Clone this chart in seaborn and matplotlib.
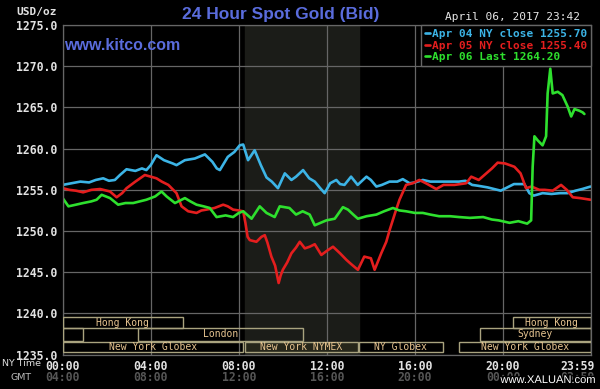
import numpy as np
import pandas as pd
import matplotlib
matplotlib.use("Agg")
import matplotlib.pyplot as plt
import matplotlib.patheffects as pe
import matplotlib.transforms as mtransforms
from matplotlib.patches import Rectangle
import seaborn as sns

# hours since NY midnight, prices
apr04_hours = [0.0, 0.4, 0.8, 1.2, 1.5, 1.84, 2.1, 2.37, 2.6, 2.9, 3.3, 3.6, 3.8, 4.0, 4.26,
               4.6, 5.0, 5.17, 5.55, 6.0, 6.46, 6.8, 7.0, 7.14, 7.5, 7.8, 8.04, 8.2, 8.42,
               8.72, 9.0, 9.26, 9.5, 9.78, 10.09, 10.39, 10.6, 10.92, 11.2, 11.45, 11.7,
               11.9, 12.15, 12.43, 12.6, 12.8, 13.1, 13.4, 13.8, 14.0, 14.25, 14.5, 14.85,
               15.2, 15.45, 15.76, 16.0, 16.36, 16.7, 17.1, 17.6, 18.0, 18.3, 18.6, 18.86,
               19.3, 19.9, 20.2, 20.5, 20.97, 21.2, 21.4, 21.8, 22.2, 22.6, 22.94, 23.3,
               23.6, 23.98]
apr04_price = [1255.6, 1255.8, 1256.0, 1255.9, 1256.2, 1256.4, 1256.1, 1256.2, 1256.8, 1257.5,
               1257.3, 1257.6, 1257.4, 1258.0, 1259.2, 1258.6, 1258.2, 1258.0, 1258.6, 1258.8,
               1259.3, 1258.4, 1257.6, 1257.4, 1259.0, 1259.6, 1260.4, 1260.5, 1258.6, 1259.8,
               1258.0, 1256.5, 1256.0, 1255.2, 1257.0, 1256.2, 1256.6, 1257.4, 1256.4, 1256.0,
               1255.2, 1254.6, 1255.8, 1256.2, 1255.7, 1255.6, 1256.6, 1255.6, 1256.6, 1256.2,
               1255.4, 1255.6, 1256.0, 1256.0, 1256.3, 1255.8, 1255.9, 1256.2, 1256.0, 1256.0,
               1256.0, 1256.0, 1256.1, 1255.6, 1255.5, 1255.3, 1254.9, 1255.3, 1255.7, 1255.7,
               1254.6, 1254.3, 1254.6, 1254.5, 1254.6, 1254.6, 1254.9, 1255.1, 1255.4]

apr05_hours = [0.0, 0.3, 0.6, 0.93, 1.3, 1.7, 2.15, 2.45, 2.7, 2.9, 3.3, 3.73, 4.0, 4.26, 4.5,
               4.8, 5.17, 5.4, 5.7, 6.08, 6.3, 6.53, 6.9, 7.29, 7.5, 7.74, 8.0, 8.2, 8.3, 8.4,
               8.5, 8.8, 9.03, 9.18, 9.3, 9.48, 9.65, 9.81, 9.9, 10.0, 10.2, 10.39, 10.6,
               10.77, 11.0, 11.22, 11.45, 11.75, 12.0, 12.28, 12.6, 12.89, 13.1, 13.41, 13.7,
               14.0, 14.17, 14.47, 14.7, 14.85, 15.1, 15.3, 15.6, 15.9, 16.2, 16.5, 16.97,
               17.3, 17.8, 18.33, 18.56, 18.9, 19.2, 19.5, 19.76, 20.1, 20.52, 20.8, 21.05,
               21.3, 21.65, 21.9, 22.26, 22.64, 22.9, 23.17, 23.5, 23.98]
apr05_price = [1255.2, 1255.0, 1254.9, 1254.7, 1255.0, 1255.1, 1254.8, 1254.1, 1254.6, 1255.2,
               1256.0, 1256.8, 1256.6, 1256.4, 1256.0, 1255.6, 1254.6, 1253.0, 1252.4, 1252.2,
               1252.5, 1252.6, 1252.8, 1253.2, 1253.0, 1252.6, 1252.5, 1252.4, 1251.0, 1249.3,
               1248.9, 1248.7, 1249.3, 1249.5, 1248.6, 1246.9, 1245.8, 1243.7, 1244.6, 1245.3,
               1246.2, 1247.3, 1248.0, 1248.7, 1247.9, 1248.1, 1248.4, 1247.1, 1247.6, 1248.1,
               1247.3, 1246.5, 1246.0, 1245.3, 1246.9, 1246.7, 1245.3, 1247.3, 1248.7, 1250.1,
               1252.2, 1253.8, 1255.6, 1255.8, 1256.2, 1255.8, 1255.1, 1255.6, 1255.6, 1255.8,
               1256.6, 1256.2, 1256.9, 1257.6, 1258.3, 1258.2, 1257.8, 1257.0, 1255.2, 1255.4,
               1255.0, 1255.0, 1254.9, 1255.6, 1255.0, 1254.1, 1254.0, 1253.8]

apr06_hours = [0.0, 0.26, 0.6, 0.93, 1.3, 1.54, 1.77, 2.15, 2.52, 2.85, 3.2, 3.5, 3.8, 4.2,
               4.49, 4.72, 5.1, 5.55, 5.8, 6.08, 6.4, 6.68, 6.99, 7.4, 7.74, 8.0, 8.2, 8.58,
               8.95, 9.26, 9.63, 9.86, 10.3, 10.6, 10.9, 11.22, 11.45, 11.98, 12.36, 12.73,
               12.96, 13.2, 13.41, 13.8, 14.25, 14.6, 15.0, 15.3, 15.6, 16.0, 16.36, 16.7,
               17.1, 17.6, 18.0, 18.5, 19.1, 19.5, 19.8, 20.3, 20.7, 21.1, 21.28, 21.35,
               21.43, 21.58, 21.8, 21.96, 22.03, 22.15, 22.26, 22.49, 22.7, 22.94, 23.1,
               23.25, 23.47, 23.62, 23.7]
apr06_price = [1254.0, 1253.0, 1253.2, 1253.4, 1253.6, 1253.8, 1254.4, 1254.0, 1253.2, 1253.4,
               1253.4, 1253.6, 1253.8, 1254.2, 1254.8, 1254.2, 1253.4, 1254.0, 1253.6, 1253.2,
               1253.0, 1252.8, 1251.7, 1251.9, 1251.7, 1252.2, 1252.4, 1251.5, 1253.0, 1252.2,
               1251.7, 1253.0, 1252.8, 1252.0, 1252.4, 1252.0, 1250.7, 1251.3, 1251.5, 1252.9,
               1252.6, 1252.0, 1251.5, 1251.8, 1252.0, 1252.4, 1252.8, 1252.5, 1252.4, 1252.2,
               1252.2, 1252.0, 1251.8, 1251.8, 1251.7, 1251.6, 1251.7, 1251.4, 1251.3, 1251.0,
               1251.2, 1250.9, 1251.3, 1257.8, 1261.5, 1261.0, 1260.4, 1261.5, 1266.7, 1269.7,
               1266.7, 1266.9, 1266.5, 1265.1, 1263.9, 1264.8, 1264.6, 1264.4, 1264.2]

series_labels = ["Apr 04 NY close 1255.70", "Apr 05 NY close 1255.40", "Apr 06 Last 1264.20"]

# trading sessions: name, start hour, end hour, row (0 = top)
sessions = [("Hong Kong", 0.0, 5.47, 0), ("Hong Kong", 20.45, 24.0, 0),
            ("", 0.0, 0.93, 1), ("London", 3.43, 10.92, 1), ("Sydney", 18.94, 24.0, 1),
            ("New York Globex", 0.0, 8.2, 2), ("New York NYMEX", 8.27, 13.41, 2),
            ("NY Globex", 13.46, 17.27, 2), ("New York Globex", 18.0, 24.0, 2)]
nymex_open, nymex_close = 8.27, 13.45

x_ticks = [0, 4, 8, 12, 16, 20, 24]
ny_labels = ["00:00", "04:00", "08:00", "12:00", "16:00", "20:00", "23:59"]
gmt_labels = ["04:00", "08:00", "12:00", "16:00", "20:00", "00:00", "03:59"]
y_ticks = [1235, 1240, 1245, 1250, 1255, 1260, 1265, 1270, 1275]

df = pd.concat([
    pd.DataFrame({"hour": apr04_hours, "price": apr04_price, "series": series_labels[0]}),
    pd.DataFrame({"hour": apr05_hours, "price": apr05_price, "series": series_labels[1]}),
    pd.DataFrame({"hour": apr06_hours, "price": apr06_price, "series": series_labels[2]}),
])

grid_c = "#666666"
sns.set_theme(style="dark", rc={"axes.facecolor": "black", "figure.facecolor": "black",
                                "axes.edgecolor": grid_c, "grid.color": grid_c})
plt.rcParams["font.family"] = ["DejaVu Sans Mono"]

fig = plt.figure(figsize=(6, 3.89), dpi=100)
ax = fig.add_axes([0.1045, 0.0882, 0.8805, 0.8475])

ax.axvspan(nymex_open, nymex_close, color="#1b1c18", zorder=0)

palette = {series_labels[0]: "#3cb4e6", series_labels[1]: "#e41e1e", series_labels[2]: "#2ee02e"}
sns.lineplot(data=df, x="hour", y="price", hue="series", palette=palette,
             estimator=None, linewidth=1.9, ax=ax)

ax.set_xlim(0, 24)
ax.set_ylim(1235, 1275)
ax.set_xticks(x_ticks)
ax.set_xticklabels(ny_labels)
ax.set_yticks(y_ticks)
ax.set_yticklabels([f"{v:.1f}" for v in y_ticks])
ax.set_xlabel("")
ax.set_ylabel("")
ax.grid(True, color=grid_c, linewidth=0.9)
ax.set_axisbelow(True)
ax.tick_params(length=0, colors="#e2e2e2", labelsize=8.3, pad=4)
for lab in ax.get_xticklabels() + ax.get_yticklabels():
    lab.set_fontweight("bold")

# last time label sits inside the figure edge
shift = mtransforms.ScaledTranslation(4 / 100, 0, fig.dpi_scale_trans)
last = ax.get_xticklabels()[-1]
last.set_ha("right")
last.set_transform(last.get_transform() + shift)

for sp in ax.spines.values():
    sp.set_color(grid_c)
    sp.set_linewidth(0.9)

for i, g in enumerate(gmt_labels):
    tr = ax.get_xaxis_transform()
    ha = "center"
    if i == len(gmt_labels) - 1:
        tr = tr + shift
        ha = "right"
    ax.text(x_ticks[i], -0.07, g, transform=tr, ha=ha, va="center",
            fontsize=8.3, fontweight="bold", color="#565656")

rows = [(1238.2, 1239.6), (1236.7, 1238.2), (1235.3, 1236.6)]
for name, start, end, row in sessions:
    lo, hi = rows[row]
    fill = "#26261a" if "NYMEX" in name else "none"
    ax.add_patch(Rectangle((start, lo), end - start, hi - lo, facecolor=fill,
                           edgecolor="#a9a37f", linewidth=1.0, zorder=3))
    if name:
        ax.text((start + end) / 2, (lo + hi) / 2, name, ha="center", va="center",
                fontsize=7, color="#e7c490", zorder=4)

leg = ax.legend(loc="upper right", frameon=True, facecolor="black", edgecolor=grid_c,
                framealpha=1, fancybox=False, borderaxespad=0, handlelength=0.5,
                handletextpad=0.15, labelcolor="linecolor", borderpad=0.35, labelspacing=0.15,
                prop={"family": "DejaVu Sans Mono", "weight": "bold", "size": 8})
leg.set_title(None)

title_c = "#5a6cdc"
fig.text(0.467, 0.962, "24 Hour Spot Gold (Bid)", ha="center", va="center", color=title_c,
         fontsize=12.5, fontweight="bold", family="Liberation Sans")
fig.text(0.107, 1 - 46 / 389, "www.kitco.com", ha="left", va="center", color=title_c,
         fontsize=11.5, fontweight="bold", family="Liberation Sans")
fig.text(0.967, 1 - 17 / 389, "April 06, 2017 23:42", ha="right", va="center",
         color="#e8e8e8", fontsize=8)
fig.text(0.028, 1 - 12 / 389, "USD/oz", ha="left", va="center", color="#e2e2e2",
         fontsize=8, fontweight="bold")
fig.text(0.003, 1 - 364 / 389, "NY Time", ha="left", va="center", color="#dddddd",
         fontsize=6.8, family="DejaVu Sans")
fig.text(0.017, 1 - 378 / 389, "GMT", ha="left", va="center", color="#bbbbbb",
         fontsize=6.8, family="DejaVu Sans")
fig.text(0.992, 1 - 380 / 389, "www.XALUAN.com", ha="right", va="center", color="white",
         fontsize=8, family="Liberation Sans",
         path_effects=[pe.withStroke(linewidth=2, foreground="black")])

fig.savefig("out.png", dpi=100, facecolor="black")
